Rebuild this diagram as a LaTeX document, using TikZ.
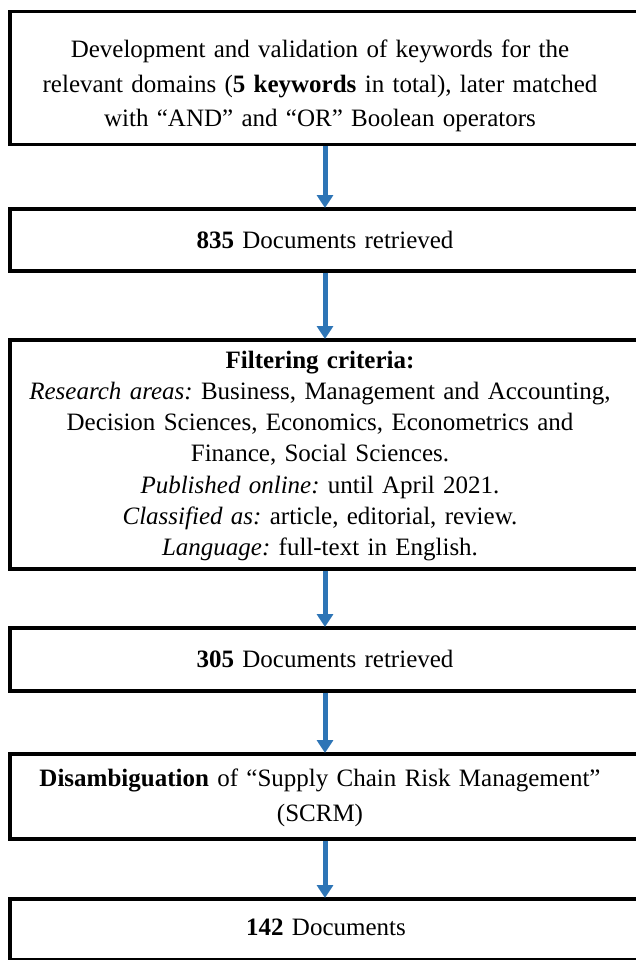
\documentclass[tikz,border=0pt]{standalone}
\usepackage{fontspec}
\setmainfont[WordSpace=0.6]{Liberation Serif}
\usetikzlibrary{arrows.meta}
\definecolor{arrowblue}{HTML}{2E75B6}
\frenchspacing
\begin{document}
\begin{tikzpicture}[x=1pt,y=-1pt,
  box/.style={draw=black,line width=3.5pt,minimum width=630pt,inner sep=0pt,anchor=north},
  txt/.style={align=center,text width=620pt,inner sep=0pt,font=\fontsize{25}{34.5}\selectfont},
  flow/.style={draw=arrowblue,line width=5pt,-{Triangle[width=16pt,length=13pt]},shorten >=-1pt}]
\useasboundingbox (0,0) rectangle (636,960);
\fill[white] (0,0) rectangle (636,960);
\node[box,minimum height=133pt] (b1) at (325,10) {};
\node[box,minimum height=62pt] (b2) at (325,207) {};
\node[box,minimum height=229pt] (b3) at (325,338) {};
\node[box,minimum height=63pt] (b4) at (325,626) {};
\node[box,minimum height=85pt] (b5) at (325,752) {};
\node[box,minimum height=61pt] (b6) at (325,897) {};
\node[txt] (t1) at (320,86) {Development and validation of keywords for the\\relevant domains (\textbf{5 keywords} in total), later matched\\with “AND” and “OR” Boolean operators};
\node[txt] (t2) at (325,240) {\textbf{835} Documents retrieved};
\node[txt,font=\fontsize{25}{31.3}\selectfont] (t3) at (320,456) {\textbf{Filtering criteria:}\\\textit{Research areas:} Business, Management and Accounting,\\Decision Sciences, Economics, Econometrics and\\Finance, Social Sciences.\\\textit{Published online:} until April 2021.\\\textit{Classified as:} article, editorial, review.\\\textit{Language:} full-text in English.};
\node[txt] (t4) at (325,659) {\textbf{305} Documents retrieved};
\node[txt] (t5) at (320,798) {\textbf{Disambiguation} of “Supply Chain Risk Management”\\(SCRM)};
\node[txt] (t6) at (326,927) {\textbf{142} Documents};
\draw[flow] (b1.south) -- (b2.north);
\draw[flow] (b2.south) -- (b3.north);
\draw[flow] (b3.south) -- (b4.north);
\draw[flow] (b4.south) -- (b5.north);
\draw[flow] (b5.south) -- (b6.north);
\end{tikzpicture}
\end{document}
